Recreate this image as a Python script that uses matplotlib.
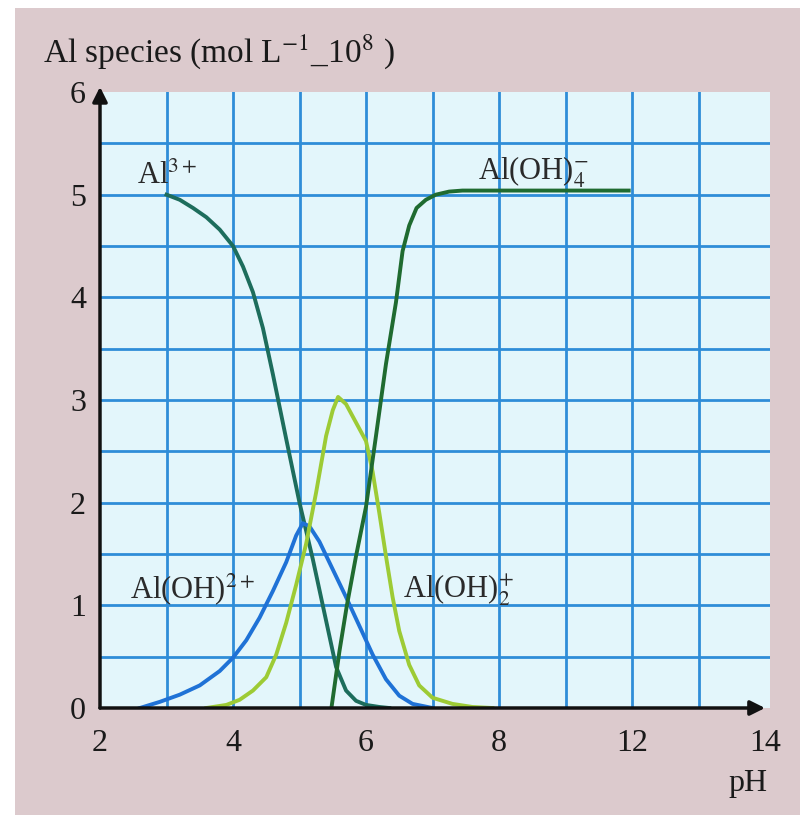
import matplotlib.pyplot as plt
from matplotlib.patches import Rectangle

plt.rcParams['font.family'] = ['Liberation Serif', 'DejaVu Serif']
plt.rcParams['mathtext.fontset'] = 'stix'

# x positions are in grid units; the printed labels skip 10 (as in the original)
tick_pos = [2, 4, 6, 8, 10, 12]
tick_labels = ['2', '4', '6', '8', '12', '14']
y_ticks = [0, 1, 2, 3, 4, 5, 6]

# Al3+
al3_x = [3.0, 3.2, 3.4, 3.6, 3.8, 4.0, 4.15, 4.3, 4.45, 4.6, 4.8, 5.0, 5.2, 5.4,
         5.55, 5.7, 5.85, 6.0, 6.2, 6.35]
al3_y = [5.0, 4.95, 4.87, 4.78, 4.66, 4.5, 4.3, 4.05, 3.7, 3.25, 2.62, 2.0, 1.45, 0.85,
         0.4, 0.17, 0.07, 0.03, 0.01, 0.0]

# Al(OH)2+
aloh_x = [2.6, 2.9, 3.2, 3.5, 3.8, 4.0, 4.2, 4.4, 4.6, 4.8, 4.95, 5.05, 5.15, 5.3,
          5.5, 5.7, 5.9, 6.1, 6.3, 6.5, 6.7, 7.0]
aloh_y = [0.0, 0.06, 0.13, 0.22, 0.36, 0.49, 0.66, 0.88, 1.14, 1.42, 1.68, 1.8, 1.77, 1.62,
          1.35, 1.08, 0.8, 0.52, 0.28, 0.12, 0.04, 0.0]

# Al(OH)2 +
aloh2_x = [3.6, 3.9, 4.1, 4.3, 4.5, 4.65, 4.8, 4.95, 5.1, 5.25, 5.4, 5.5, 5.58, 5.7,
           5.85, 6.0, 6.1, 6.2, 6.3, 6.4, 6.5, 6.65, 6.8, 7.0, 7.3, 7.6, 7.9]
aloh2_y = [0.0, 0.03, 0.08, 0.17, 0.3, 0.52, 0.83, 1.2, 1.6, 2.1, 2.65, 2.9, 3.03, 2.96,
           2.78, 2.6, 2.3, 1.9, 1.48, 1.08, 0.75, 0.42, 0.22, 0.1, 0.04, 0.01, 0.0]

# Al(OH)4 -
aloh4_x = [5.48, 5.6, 5.71, 5.85, 6.0, 6.15, 6.3, 6.45, 6.55, 6.65, 6.76, 6.9, 7.05,
           7.25, 7.45, 8.0, 9.0, 9.95]
aloh4_y = [0.0, 0.55, 0.99, 1.48, 1.96, 2.65, 3.35, 3.95, 4.45, 4.7, 4.87, 4.95, 5.0,
           5.03, 5.04, 5.04, 5.04, 5.04]

fig = plt.figure(figsize=(8, 8.15), dpi=100, facecolor='white')
# paper background with a thin white margin at the left and top
fig.patches.append(Rectangle((15 / 800, 0), 1, 1 - 8 / 815, transform=fig.transFigure,
                             facecolor='#dccacd', edgecolor='none', zorder=-10))

ax = fig.add_axes([100 / 800, (815 - 708) / 815, 670 / 800, 616 / 815])
ax.set_zorder(2)
ax.set_facecolor('#e3f6fb')
ax.set_xlim(2, 12.075)
ax.set_ylim(0, 6)
for s in ax.spines.values():
    s.set_visible(False)

# blue grid
for gx in range(3, 12):
    ax.axvline(gx, color='#2f8dd8', lw=2, zorder=1)
for i in range(1, 12):
    ax.axhline(i * 0.5, color='#2f8dd8', lw=2, zorder=1)

ax.plot(al3_x, al3_y, color='#1d6d5c', lw=2.8, zorder=3)
ax.plot(aloh_x, aloh_y, color='#1f72d6', lw=2.8, zorder=3)
ax.plot(aloh2_x, aloh2_y, color='#9dcb35', lw=2.8, zorder=3)
ax.plot(aloh4_x, aloh4_y, color='#1f6b30', lw=2.8, zorder=4)

# axes with arrows
ax.annotate('', xy=(12.0, 0), xytext=(2, 0), annotation_clip=False,
            arrowprops=dict(arrowstyle='-|>', color='#111111', lw=2.5, mutation_scale=22,
                            shrinkA=0, shrinkB=0), zorder=5)
ax.annotate('', xy=(2, 6.05), xytext=(2, 0), annotation_clip=False,
            arrowprops=dict(arrowstyle='-|>', color='#111111', lw=2.5, mutation_scale=22,
                            shrinkA=0, shrinkB=0), zorder=5)

ax.set_xticks(tick_pos)
ax.set_xticklabels(tick_labels)
ax.set_yticks(y_ticks)
ax.tick_params(axis='x', length=0, pad=15, labelsize=23, colors='#1a1a1a')
ax.tick_params(axis='y', length=0, pad=10, labelsize=23, colors='#1a1a1a')
# the top label sits a little below the arrow tip in the original
ax.get_yticklabels()[-1].set_y(5.92)

lab = dict(fontsize=22, color='#2a2a2a', va='baseline', ha='left', zorder=6)
ax.text(2.55, 5.1, r'Al$^{3+}$', **lab)
ax.text(7.68, 5.15, r'Al(OH)$_{4}^{-}$', **lab)
ax.text(2.45, 1.07, r'Al(OH)$^{2+}$', **lab)
ax.text(6.56, 1.08, r'Al(OH)$_{2}^{+}$', **lab)

fig.text(43 / 800, 1 - 62 / 815, r'Al species (mol L$^{-1}$_10$^{8}$ )', fontsize=24,
         color='#1a1a1a', va='baseline', ha='left')
fig.text(748 / 800, 1 - 783 / 815, 'pH', fontsize=23, color='#1a1a1a', ha='center',
         va='center')

fig.savefig('out.png', dpi=100)
